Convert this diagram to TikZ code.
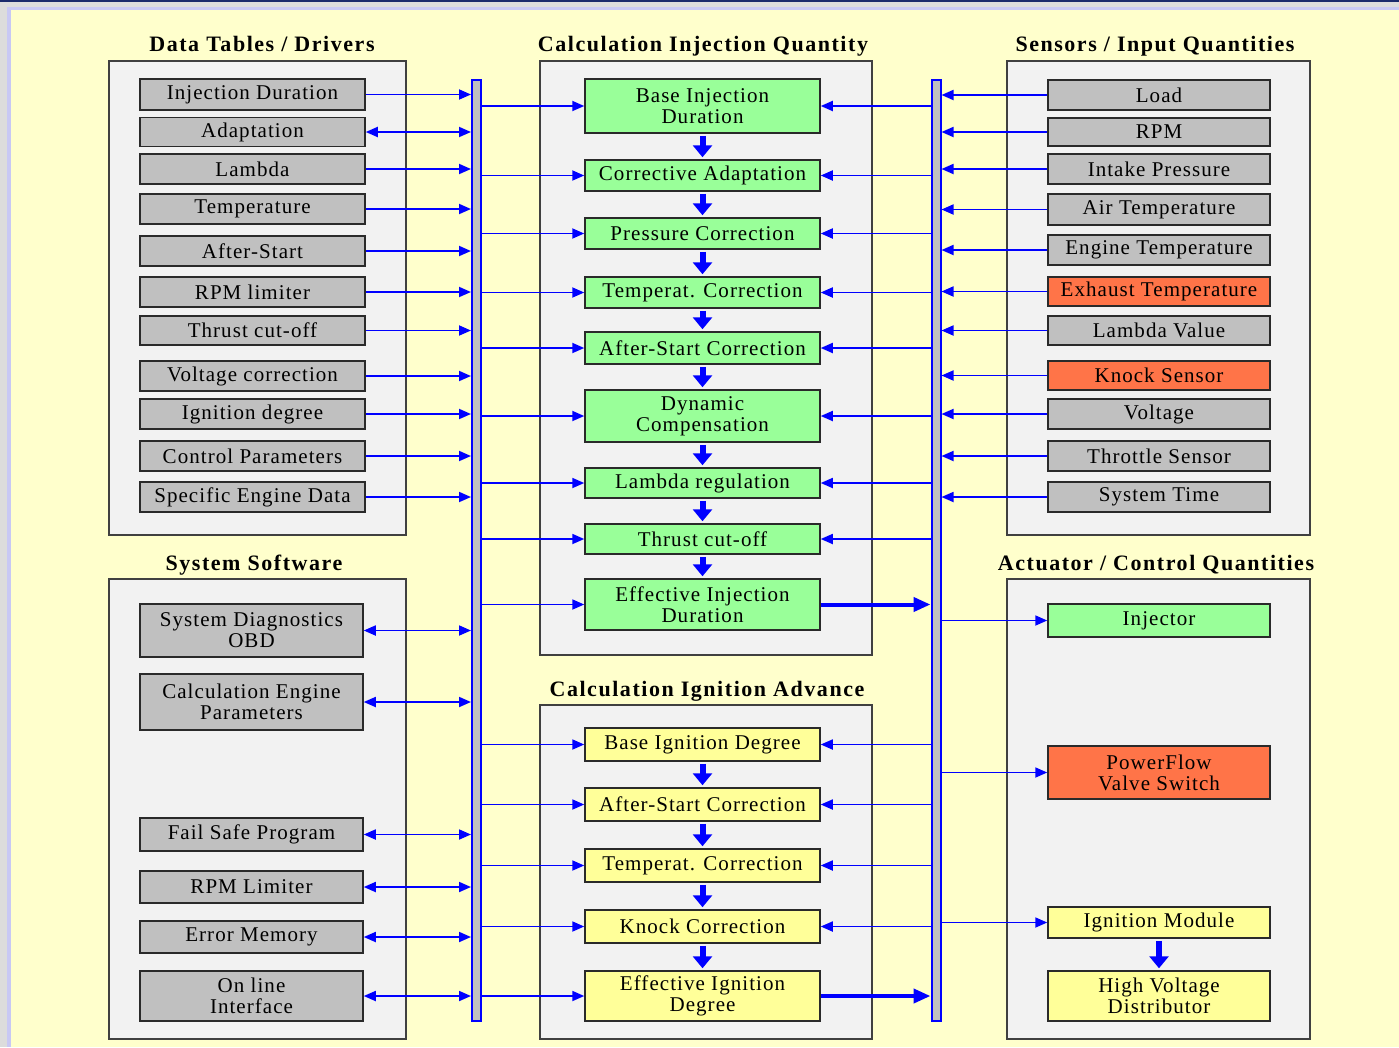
\documentclass[tikz,border=0pt]{standalone}
\usepackage{fontspec}
\setmainfont{Liberation Serif}
\usetikzlibrary{arrows.meta, positioning}
\definecolor{pagebg}{HTML}{FFFFCC}
\definecolor{pagegray}{HTML}{DCDCDC}
\definecolor{pageedge}{HTML}{C8C8F4}
\definecolor{pagetop}{HTML}{1A2A6C}
\definecolor{panelfill}{HTML}{F2F2F2}
\definecolor{panelline}{HTML}{404040}
\definecolor{boxline}{HTML}{2A2A2A}
\definecolor{grayfill}{HTML}{C0C0C0}
\definecolor{injfill}{HTML}{99FF99}
\definecolor{ignfill}{HTML}{FFFF99}
\definecolor{hotfill}{HTML}{FF7448}
\definecolor{busblue}{HTML}{0000FF}
\tikzset{
  panel/.style  = {draw=panelline, fill=panelfill, line width=1.3pt},
  head/.style   = {font=\fontsize{22}{24}\selectfont\bfseries\addfontfeature{LetterSpace=7}},
  box/.style    = {rectangle, draw=boxline, line width=1.5pt, align=center, inner sep=0pt,
                   font=\fontsize{21}{21}\selectfont\addfontfeature{LetterSpace=5}},
  datbox/.style = {box, fill=grayfill, minimum width=225pt},
  swbox/.style  = {box, fill=grayfill, minimum width=223pt},
  injbox/.style = {box, fill=injfill, minimum width=235pt},
  ignbox/.style = {box, fill=ignfill, minimum width=235pt},
  senbox/.style = {box, fill=grayfill, minimum width=222pt},
  hotbox/.style = {box, fill=hotfill, minimum width=222pt},
  bus/.style    = {rectangle, draw=busblue, fill=grayfill, line width=2pt, inner sep=0pt,
                   minimum width=9pt, minimum height=941pt},
  flow/.style   = {draw=busblue, line width=1.8pt, -{Triangle[length=12pt, width=10pt]}},
  both/.style   = {flow, {Triangle[length=12pt, width=10pt]}-{Triangle[length=12pt, width=10pt]}},
  fat/.style    = {draw=busblue, line width=4pt, -{Triangle[length=17pt, width=14pt]}},
  chain/.style  = {draw=busblue, line width=6pt, -{Triangle[length=12pt, width=19pt]},
                   shorten <=2pt, shorten >=2pt},
}

\begin{document}
\begin{tikzpicture}[x=1pt, y=-1pt]
  % page
  \useasboundingbox (0,0) rectangle (1399,1047);
  \fill[pagegray] (0,0) rectangle (1399,1047);
  \fill[pagetop] (0,0) rectangle (1399,2);
  \fill[pageedge] (7,7) rectangle (1399,1047);
  \fill[pagebg] (11,10) rectangle (1399,1047);

  % panels
  \draw[panel] (109,61) rectangle (406,535);
  \draw[panel] (109,579) rectangle (406,1039);
  \draw[panel] (540,61) rectangle (872,655);
  \draw[panel] (540,705) rectangle (872,1039);
  \draw[panel] (1007,61) rectangle (1310,535);
  \draw[panel] (1007,579) rectangle (1310,1039);

  \node[head] (hdat) at (262,44) {Data Tables / Drivers};
  \node[head] (hsw)  at (254,565) {System Software};
  \node[head] (hinj) at (703,46) {Calculation Injection Quantity};
  \node[head] (hign) at (707,691) {Calculation Ignition Advance};
  \node[head] (hsen) at (1155,46) {Sensors / Input Quantities};
  \node[head] (hact) at (1156,565) {Actuator / Control Quantities};

  % data tables
  \node[datbox, minimum height=31pt] (d1) at (252.5,94.5) {Injection Duration};
  \node[datbox, minimum height=29pt] (d2) at (252.5,132) {Adaptation};
  \node[datbox, minimum height=30pt] (d3) at (252.5,169) {Lambda};
  \node[datbox, minimum height=30pt] (d4) at (252.5,209) {Temperature};
  \node[datbox, minimum height=30pt] (d5) at (252.5,251) {After-Start};
  \node[datbox, minimum height=30pt] (d6) at (252.5,292) {RPM limiter};
  \node[datbox, minimum height=29pt] (d7) at (252.5,330.5) {Thrust cut-off};
  \node[datbox, minimum height=30pt] (d8) at (252.5,376) {Voltage correction};
  \node[datbox, minimum height=30pt] (d9) at (252.5,414) {Ignition degree};
  \node[datbox, minimum height=30pt] (d10) at (252.5,456) {Control Parameters};
  \node[datbox, minimum height=30pt] (d11) at (252.5,497) {Specific Engine Data};

  % system software
  \node[swbox, minimum height=53pt] (s1) at (251.5,630.5) {System Diagnostics\\OBD};
  \node[swbox, minimum height=56pt] (s2) at (251.5,702) {Calculation Engine\\Parameters};
  \node[swbox, minimum height=33pt] (s3) at (251.5,834.5) {Fail Safe Program};
  \node[swbox, minimum height=32pt] (s4) at (251.5,887) {RPM Limiter};
  \node[swbox, minimum height=32pt] (s5) at (251.5,937) {Error Memory};
  \node[swbox, minimum height=50pt] (s6) at (251.5,996) {On line\\Interface};

  % injection quantity
  \node[injbox, minimum height=54pt] (q1) at (702.5,106) {Base Injection\\Duration};
  \node[injbox, minimum height=31pt] (q2) at (702.5,175.5) {Corrective Adaptation};
  \node[injbox, minimum height=31pt] (q3) at (702.5,233.5) {Pressure Correction};
  \node[injbox, minimum height=31pt] (q4) at (702.5,292.5) {Temperat. Correction};
  \node[injbox, minimum height=32pt] (q5) at (702.5,348) {After-Start Correction};
  \node[injbox, minimum height=52pt] (q6) at (702.5,416) {Dynamic\\Compensation};
  \node[injbox, minimum height=30pt] (q7) at (702.5,483) {Lambda regulation};
  \node[injbox, minimum height=30pt] (q8) at (702.5,539) {Thrust cut-off};
  \node[injbox, minimum height=51pt] (q9) at (702.5,604.5) {Effective Injection\\Duration};

  % ignition advance
  \node[ignbox, minimum height=33pt] (g1) at (702.5,744.5) {Base Ignition Degree};
  \node[ignbox, minimum height=33pt] (g2) at (702.5,804.5) {After-Start Correction};
  \node[ignbox, minimum height=33pt] (g3) at (702.5,865.5) {Temperat. Correction};
  \node[ignbox, minimum height=33pt] (g4) at (702.5,926.5) {Knock Correction};
  \node[ignbox, minimum height=50pt] (g5) at (702.5,996) {Effective Ignition\\Degree};

  % sensors
  \node[senbox, minimum height=30pt] (in1) at (1159,95) {Load};
  \node[senbox, minimum height=28pt] (in2) at (1159,132) {RPM};
  \node[senbox, minimum height=30pt] (in3) at (1159,169) {Intake Pressure};
  \node[senbox, minimum height=31pt] (in4) at (1159,209.5) {Air Temperature};
  \node[senbox, minimum height=30pt] (in5) at (1159,250) {Engine Temperature};
  \node[hotbox, minimum height=29pt] (in6) at (1159,291.5) {Exhaust Temperature};
  \node[senbox, minimum height=29pt] (in7) at (1159,330.5) {Lambda Value};
  \node[hotbox, minimum height=29pt] (in8) at (1159,375.5) {Knock Sensor};
  \node[senbox, minimum height=30pt] (in9) at (1159,414) {Voltage};
  \node[senbox, minimum height=30pt] (in10) at (1159,456) {Throttle Sensor};
  \node[senbox, minimum height=30pt] (in11) at (1159,497) {System Time};

  % actuators
  \node[injbox, minimum width=222pt, minimum height=33pt] (a1) at (1159,620.5) {Injector};
  \node[hotbox, minimum height=53pt] (a2) at (1159,772.5) {PowerFlow\\Valve Switch};
  \node[ignbox, minimum width=222pt, minimum height=31pt] (a3) at (1159,922.5) {Ignition Module};
  \node[ignbox, minimum width=222pt, minimum height=50pt] (a4) at (1159,996) {High Voltage\\Distributor};

  % buses
  \node[bus] (busL) at (476.5,550.5) {};
  \node[bus] (busR) at (936,550.5) {};

  % connectors
  \foreach \i in {1,3,4,5,6,7,8,9,10,11}{\draw[flow] (d\i.east) -- (d\i.east -| busL.west);}
  \draw[both] (d2.east) -- (d2.east -| busL.west);
  \foreach \i in {1,...,6}{\draw[both] (s\i.east) -- (s\i.east -| busL.west);}
  \foreach \i in {1,...,9}{\draw[flow] (busL.east |- q\i.west) -- (q\i.west);}
  \foreach \i in {1,...,5}{\draw[flow] (busL.east |- g\i.west) -- (g\i.west);}
  \foreach \i in {1,...,8}{\draw[flow] (busR.west |- q\i.east) -- (q\i.east);}
  \foreach \i in {1,...,4}{\draw[flow] (busR.west |- g\i.east) -- (g\i.east);}
  \foreach \i in {1,...,11}{\draw[flow] (in\i.west) -- (in\i.west -| busR.east);}
  \foreach \i in {1,2,3}{\draw[flow] (busR.east |- a\i.west) -- (a\i.west);}
  \draw[fat] (q9.east) -- (q9.east -| busR.west);
  \draw[fat] (g5.east) -- (g5.east -| busR.west);
  \foreach \a/\b in {1/2,2/3,3/4,4/5,5/6,6/7,7/8,8/9}{\draw[chain] (q\a) -- (q\b);}
  \foreach \a/\b in {1/2,2/3,3/4,4/5}{\draw[chain] (g\a) -- (g\b);}
  \draw[chain] (a3) -- (a4);
\end{tikzpicture}
\end{document}
